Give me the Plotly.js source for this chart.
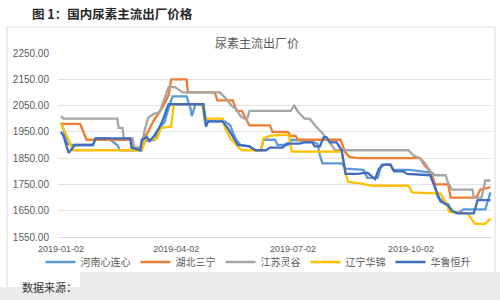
<!DOCTYPE html>
<html>
<head>
<meta charset="utf-8">
<script src="https://cdn.plot.ly/plotly-3.0.1.min.js"></script>
<style>html,body{margin:0;padding:0;background:#fff;}#chart{width:500px;height:300px;}</style>
</head>
<body>
<div id="chart"></div>
<script>
// ---- data ----
const seriesNames = ['河南心连心', '湖北三宁', '江苏灵谷', '辽宁华锦', '华鲁恒升'];
const seriesColors = ['#5B9BD5', '#ED7D31', '#A5A5A5', '#FFC000', '#3F6CC0'];

const henanDates = ['2019-01-02','2019-01-04','2019-01-07','2019-01-11','2019-01-27','2019-01-29','2019-02-08','2019-02-11','2019-02-15','2019-02-17','2019-03-06','2019-03-08','2019-03-16','2019-03-20','2019-03-24','2019-03-27','2019-03-30','2019-04-10','2019-04-13','2019-04-14','2019-04-17','2019-04-23','2019-04-25','2019-04-27','2019-05-10','2019-05-14','2019-05-18','2019-05-22','2019-05-29','2019-06-02','2019-06-07','2019-06-09','2019-06-18','2019-06-20','2019-06-28','2019-07-01','2019-07-15','2019-07-21','2019-07-23','2019-07-25','2019-08-09','2019-08-12','2019-08-26','2019-08-29','2019-09-06','2019-09-09','2019-09-16','2019-09-18','2019-10-01','2019-10-18','2019-10-23','2019-10-26','2019-10-31','2019-11-03','2019-11-09','2019-11-12','2019-11-29','2019-12-03'];
const henanPrices = [1985,1960,1905,1900,1900,1925,1925,1915,1900,1880,1880,1915,1920,1960,1990,2040,2085,2085,2040,2010,2055,2055,2000,1990,1990,1975,1925,1900,1895,1880,1880,1920,1920,1900,1900,1920,1915,1905,1860,1830,1830,1810,1805,1775,1775,1825,1825,1805,1805,1795,1700,1690,1675,1645,1645,1655,1655,1720];

const hubeiDates = ['2019-01-02','2019-01-17','2019-01-22','2019-02-26','2019-02-27','2019-03-06','2019-03-07','2019-03-11','2019-03-15','2019-03-19','2019-03-23','2019-03-27','2019-03-29','2019-04-10','2019-04-11','2019-05-02','2019-05-04','2019-05-16','2019-05-19','2019-05-23','2019-05-26','2019-05-29','2019-06-14','2019-06-16','2019-06-28','2019-06-30','2019-07-04','2019-07-06','2019-08-08','2019-08-12','2019-08-15','2019-08-22','2019-10-09','2019-10-13','2019-10-17','2019-10-21','2019-10-31','2019-11-02','2019-11-22','2019-11-25','2019-12-03'];
const hubeiPrices = [1980,1980,1920,1920,1890,1890,1920,1950,1990,2020,2050,2090,2150,2150,2100,2100,2070,2070,2030,2030,2000,1975,1975,1950,1950,1935,1935,1920,1920,1870,1855,1850,1850,1820,1800,1750,1750,1700,1700,1730,1740];

const jiangsuDates = ['2019-01-02','2019-01-04','2019-02-15','2019-02-16','2019-02-19','2019-02-20','2019-02-27','2019-02-28','2019-03-06','2019-03-08','2019-03-11','2019-03-16','2019-03-20','2019-03-23','2019-03-27','2019-04-01','2019-04-07','2019-05-06','2019-05-11','2019-05-15','2019-05-19','2019-05-22','2019-05-27','2019-05-29','2019-06-30','2019-07-03','2019-07-06','2019-07-11','2019-07-15','2019-07-19','2019-07-25','2019-07-29','2019-08-04','2019-09-30','2019-10-04','2019-10-09','2019-10-13','2019-10-17','2019-10-21','2019-10-29','2019-10-31','2019-11-03','2019-11-19','2019-11-20','2019-11-26','2019-11-29','2019-12-03'];
const jiangsuPrices = [2010,2000,2000,1965,1965,1925,1925,1890,1890,1950,2005,2020,2025,2065,2120,2120,2100,2100,2075,2050,2035,2010,1995,2030,2030,2050,2025,2000,2000,1975,1945,1920,1880,1880,1860,1850,1830,1800,1785,1785,1755,1730,1730,1700,1700,1765,1765];

const liaoningDates = ['2019-01-02','2019-01-04','2019-01-08','2019-01-11','2019-03-06','2019-03-09','2019-03-18','2019-03-21','2019-03-29','2019-03-31','2019-04-22','2019-04-24','2019-05-08','2019-05-10','2019-05-14','2019-05-19','2019-05-23','2019-06-07','2019-06-09','2019-06-14','2019-06-26','2019-06-29','2019-07-01','2019-08-09','2019-08-12','2019-08-14','2019-08-22','2019-09-02','2019-09-30','2019-10-03','2019-10-25','2019-10-30','2019-11-01','2019-11-15','2019-11-18','2019-11-21','2019-11-29','2019-12-03'];
const liaoningPrices = [1985,1960,1920,1880,1880,1920,1925,1965,1970,2055,2055,2000,2000,1965,1925,1900,1880,1880,1925,1935,1940,1935,1875,1875,1790,1760,1755,1745,1745,1720,1715,1675,1645,1640,1620,1600,1600,1620];

const hualuDates = ['2019-01-02','2019-01-04','2019-01-08','2019-01-11','2019-01-13','2019-01-27','2019-01-29','2019-02-25','2019-02-26','2019-03-05','2019-03-06','2019-03-10','2019-03-12','2019-03-15','2019-03-19','2019-03-22','2019-03-25','2019-03-27','2019-04-23','2019-04-25','2019-04-27','2019-05-08','2019-05-12','2019-05-17','2019-05-20','2019-05-29','2019-06-03','2019-06-11','2019-06-14','2019-06-24','2019-06-27','2019-07-07','2019-07-11','2019-07-17','2019-07-19','2019-07-23','2019-07-26','2019-07-28','2019-07-31','2019-08-05','2019-08-09','2019-08-12','2019-08-21','2019-08-29','2019-09-04','2019-09-07','2019-09-11','2019-09-16','2019-09-19','2019-09-26','2019-09-29','2019-10-17','2019-10-22','2019-10-25','2019-10-31','2019-11-03','2019-11-07','2019-11-20','2019-11-23','2019-12-03'];
const hualuPrices = [1950,1935,1870,1890,1900,1900,1925,1925,1890,1880,1920,1930,1915,1930,1960,1990,2030,2055,2055,1970,1990,1990,1965,1925,1900,1895,1880,1880,1890,1890,1905,1905,1910,1910,1895,1895,1930,1930,1910,1910,1880,1790,1790,1795,1770,1810,1825,1825,1800,1800,1790,1785,1720,1685,1670,1650,1640,1640,1690,1690];

const tickDates = ['2019-01-02', '2019-04-02', '2019-07-02', '2019-10-02'];
const tickLabels = ['2019-01-02', '2019-04-02', '2019-07-02', '2019-10-02'];

const allDates = [henanDates, hubeiDates, jiangsuDates, liaoningDates, hualuDates];
const allPrices = [henanPrices, hubeiPrices, jiangsuPrices, liaoningPrices, hualuPrices];

// ---- layout helpers (pixel -> paper) ----
const L = 58, R = 8, T = 53, B = 63, W = 500, H = 300;
const pw = W - L - R, ph = H - T - B;
const px = x => (x - L) / pw;
const py = y => (H - B - y) / ph;

const traces = seriesNames.map((name, i) => ({
  type: 'scatter', mode: 'lines', name: name,
  x: allDates[i], y: allPrices[i],
  line: {color: seriesColors[i], width: 2.3}
}));

const layout = {
  width: W, height: H,
  margin: {l: L, r: R, t: T, b: B, pad: 0},
  paper_bgcolor: '#ffffff', plot_bgcolor: '#ffffff',
  font: {family: 'Liberation Sans, "Noto Sans CJK SC", sans-serif', color: '#595959', size: 10},
  title: {
    text: '<b>图 1：国内尿素主流出厂价格</b>',
    xref: 'container', yref: 'container', x: 32 / W, xanchor: 'left', y: 1 - 15 / H, yanchor: 'middle',
    font: {family: '"Noto Sans CJK SC", sans-serif', size: 12.5, color: '#262626'}
  },
  showlegend: true,
  legend: {
    orientation: 'h', x: px(258), xanchor: 'center', y: py(262), yanchor: 'middle',
    font: {family: '"Noto Sans CJK SC", sans-serif', size: 10, color: '#595959'},
    itemwidth: 30, bgcolor: 'rgba(0,0,0,0)', traceorder: 'normal'
  },
  xaxis: {
    type: 'date', range: ['2018-12-30 17:00', '2019-12-04 05:00'],
    tickmode: 'array', tickvals: tickDates, ticktext: tickLabels,
    showgrid: false, zeroline: false, ticks: '',
    showline: true, linecolor: '#d9d9d9', linewidth: 1,
    tickfont: {size: 9, color: '#595959'}, ticklabelstandoff: 3
  },
  yaxis: {
    range: [1550, 2250], dtick: 100, tick0: 1550, tickformat: '.2f',
    showgrid: true, gridcolor: '#e3e3e3', gridwidth: 1, zeroline: false, ticks: '',
    showline: false, tickfont: {size: 10, color: '#595959'}, ticklabelstandoff: 8
  },
  annotations: [
    {text: '尿素主流出厂价', xref: 'paper', yref: 'paper', x: px(257), y: py(42), xanchor: 'center', yanchor: 'middle', showarrow: false,
     font: {family: '"Noto Sans CJK SC", sans-serif', size: 12, color: '#595959'}},
    {text: '数据来源：', xref: 'paper', yref: 'paper', x: px(20), y: py(287), xanchor: 'left', yanchor: 'middle', showarrow: false,
     font: {family: '"Noto Sans CJK SC", sans-serif', size: 11, color: '#333333'}}
  ],
  shapes: [
    {type: 'rect', xref: 'paper', yref: 'paper', x0: px(7), x1: px(495), y0: py(292), y1: py(27), line: {color: '#d9d9d9', width: 1}, fillcolor: 'rgba(0,0,0,0)', layer: 'below'},
    {type: 'rect', xref: 'paper', yref: 'paper', x0: px(80), x1: px(501), y0: py(301), y1: py(272), line: {width: 0}, fillcolor: '#ebebeb', layer: 'above'},
    {type: 'rect', xref: 'paper', yref: 'paper', x0: px(-1), x1: px(80), y0: py(301), y1: py(287), line: {width: 0}, fillcolor: '#ebebeb', layer: 'above'}
  ]
};

Plotly.newPlot('chart', traces, layout, {staticPlot: true, displayModeBar: false});
</script>
</body>
</html>
